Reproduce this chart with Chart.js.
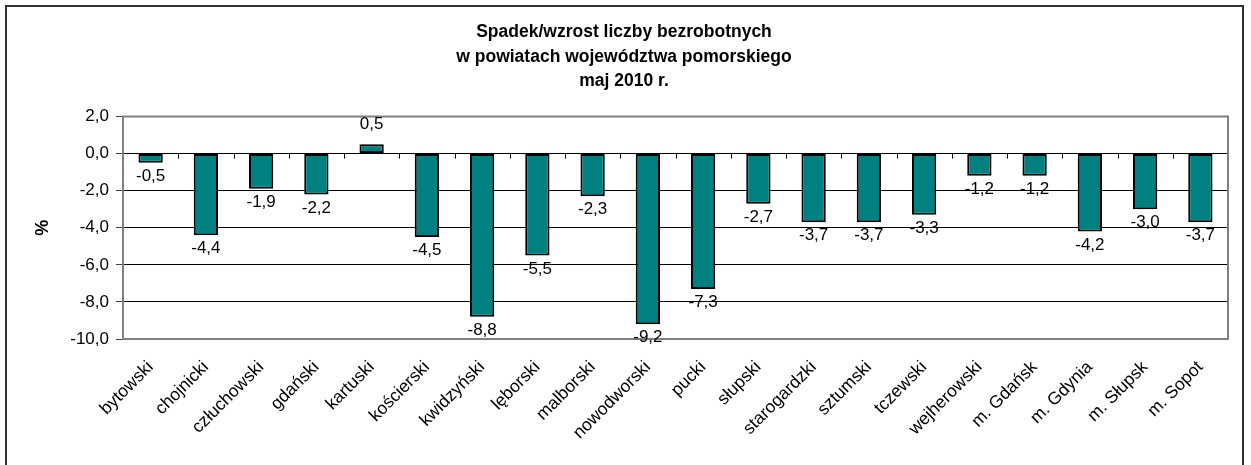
<!DOCTYPE html>
<html>
<head>
<meta charset="utf-8">
<script src="https://cdn.jsdelivr.net/npm/chart.js@4/dist/chart.umd.min.js"></script>
<style>
  body { margin: 0; background: #fff; overflow: hidden; }
  #wrap { position: relative; width: 1251px; height: 465px; }
  #frame {
    position: absolute; left: 5px; top: 5px; width: 1239px; height: 480px;
    border: 2px solid #333; box-sizing: border-box; pointer-events: none;
  }
  canvas { position: absolute; left: 0; top: 0; }
</style>
</head>
<body>
<div id="wrap">
  <canvas id="chart" width="1251" height="465"></canvas>
  <div id="frame"></div>
</div>
<script>
// Data
const categories = ['bytowski', 'chojnicki', 'człuchowski', 'gdański', 'kartuski', 'kościerski',
  'kwidzyński', 'lęborski', 'malborski', 'nowodworski', 'pucki', 'słupski', 'starogardzki',
  'sztumski', 'tczewski', 'wejherowski', 'm. Gdańsk', 'm. Gdynia', 'm. Słupsk', 'm. Sopot'];
const changeValues = [-0.5, -4.4, -1.9, -2.2, 0.5, -4.5, -8.8, -5.5, -2.3, -9.2,
  -7.3, -2.7, -3.7, -3.7, -3.3, -1.2, -1.2, -4.2, -3.0, -3.7];
const titleLines = ['Spadek/wzrost liczby bezrobotnych', 'w powiatach województwa pomorskiego', 'maj 2010 r.'];
const yMin = -10;
const yMax = 2;
const yStep = 2;

const fmt = v => v.toFixed(1).replace('.', ',');
const FONT = "'Liberation Sans', Arial, sans-serif";

// plot border + category ticks on the zero line
const plotFrame = {
  id: 'plotFrame',
  beforeDatasetsDraw(chart) {
    const { ctx, chartArea: a, scales } = chart;
    ctx.save();
    ctx.strokeStyle = '#808080';
    ctx.lineWidth = 2;
    ctx.strokeRect(a.left, a.top, a.right - a.left, a.bottom - a.top);
    // tick marks between categories on the zero axis
    const y0 = scales.y.getPixelForValue(0);
    const x = scales.x;
    ctx.strokeStyle = '#000';
    ctx.lineWidth = 1;
    ctx.beginPath();
    for (let i = 1; i < categories.length; i++) {
      const px = Math.round((x.getPixelForTick(i - 1) + x.getPixelForTick(i)) / 2) + 0.5;
      ctx.moveTo(px, y0);
      ctx.lineTo(px, y0 + 5);
    }
    ctx.stroke();
    ctx.restore();
  }
};

// value labels
const valueLabels = {
  id: 'valueLabels',
  afterDatasetsDraw(chart) {
    const { ctx } = chart;
    const meta = chart.getDatasetMeta(0);
    ctx.save();
    ctx.font = '17px ' + FONT;
    ctx.fillStyle = '#000';
    ctx.textAlign = 'center';
    meta.data.forEach((bar, i) => {
      const v = changeValues[i];
      if (v < 0) {
        ctx.textBaseline = 'top';
        ctx.fillText(fmt(v), bar.x, bar.y + 5);
      } else {
        ctx.textBaseline = 'bottom';
        ctx.fillText(fmt(v), bar.x, bar.y - 12);
      }
    });
    ctx.restore();
  }
};

new Chart(document.getElementById('chart'), {
  type: 'bar',
  data: {
    labels: categories,
    datasets: [{
      data: changeValues,
      backgroundColor: '#008080',
      borderColor: '#000',
      borderWidth: 2,
      borderSkipped: false,
      barPercentage: 0.44,
      categoryPercentage: 1.0
    }]
  },
  options: {
    responsive: false,
    animation: false,
    layout: { padding: { left: 20, right: 23, top: 0, bottom: 0 } },
    plugins: {
      legend: { display: false },
      tooltip: { enabled: false },
      title: {
        display: true,
        text: titleLines,
        color: '#000',
        font: { family: FONT, size: 17.5, weight: 'bold', lineHeight: 1.4 },
        padding: { top: 20, bottom: 23 }
      }
    },
    scales: {
      x: {
        grid: { display: false },
        border: { display: false },
        ticks: {
          color: '#000',
          font: { family: FONT, size: 17.5 },
          maxRotation: 45,
          minRotation: 45,
          autoSkip: false,
          padding: 10
        },
        afterFit(scale) { scale.height = 126; }
      },
      y: {
        min: yMin,
        max: yMax,
        border: { display: true, color: '#404040', width: 2 },
        grid: {
          color: ctx => (ctx.tick && (ctx.tick.value === yMax || ctx.tick.value === yMin)) ? 'rgba(0,0,0,0)' : '#000',
          lineWidth: 1,
          tickColor: '#404040',
          tickLength: 7,
          drawTicks: true
        },
        ticks: {
          stepSize: yStep,
          color: '#000',
          padding: 7,
          font: { family: FONT, size: 17 },
          callback: v => fmt(v)
        },
        title: {
          display: true,
          text: '%',
          color: '#000',
          font: { family: FONT, size: 18, weight: 'bold' },
          padding: { top: 12, bottom: 0 }
        },
        afterFit(scale) { scale.width = 103; }
      }
    }
  },
  plugins: [plotFrame, valueLabels]
});
</script>
</body>
</html>
